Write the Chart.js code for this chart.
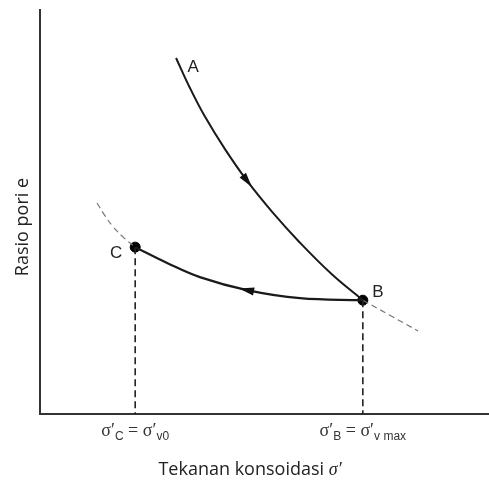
<!DOCTYPE html>
<html>
<head>
<meta charset="utf-8">
<script src="https://cdn.jsdelivr.net/npm/chart.js@4"></script>
<style>
html,body{margin:0;padding:0;background:#fff;}
#wrap{width:489px;height:480px;position:relative;}
</style>
</head>
<body>
<div id="wrap"><canvas id="c" width="489" height="480"></canvas></div>
<script>
// Curve A -> B (virgin compression, loading)
const curveAB_x = [3.03, 3.34, 3.67, 4.12, 4.61, 5.17, 5.79, 6.50, 7.19];
const curveAB_y = [8.79, 8.05, 7.35, 6.54, 5.76, 4.99, 4.23, 3.45, 2.81];
// Curve B -> C (unloading)
const curveBC_x = [7.19, 5.79, 4.61, 3.56, 2.83, 2.12];
const curveBC_y = [2.81, 2.86, 3.06, 3.38, 3.73, 4.12];
// Dashed extension of virgin line (before C and after B)
const dashLeft_x = [1.27, 1.45, 1.63, 1.87, 2.12];
const dashLeft_y = [5.21, 4.89, 4.62, 4.35, 4.12];
const dashRight_x = [7.19, 7.79, 8.42];
const dashRight_y = [2.81, 2.44, 2.05];
// Key points
const pointLabels = ["C", "B"];
const point_x = [2.12, 7.19];
const point_y = [4.12, 2.81];
// Tick labels under x axis
const tickMain = ["σ′", "σ′"];
const tickSub = ["C", "B"];
const tickRightMain = [" = σ′", " = σ′"];
const tickRightSub = ["v0", "v max"];
const xTitle = "Tekanan konsoidasi ";
const yTitle = "Rasio pori e";

function pts(xs, ys){ return xs.map((x,i)=>({x:x, y:ys[i]})); }

const overlay = {
  id:'overlay',
  afterDatasetsDraw(chart){
    const ctx = chart.ctx, xs = chart.scales.x, ys = chart.scales.y;
    const ca = chart.chartArea;
    ctx.save();
    // axes
    ctx.strokeStyle = '#333'; ctx.lineWidth = 2; ctx.setLineDash([]);
    ctx.beginPath();
    ctx.moveTo(ca.left, ca.top); ctx.lineTo(ca.left, ca.bottom); ctx.lineTo(ca.right, ca.bottom);
    ctx.stroke();
    // vertical dashed drops
    ctx.strokeStyle = '#222'; ctx.lineWidth = 1.6; ctx.setLineDash([7,4]);
    for (let i=0;i<point_x.length;i++){
      const px = xs.getPixelForValue(point_x[i]);
      ctx.beginPath();
      ctx.moveTo(px, ys.getPixelForValue(point_y[i]));
      ctx.lineTo(px, ca.bottom);
      ctx.stroke();
    }
    ctx.setLineDash([]);
    // arrows
    function arrow(xsArr, ysArr, idx){
      const x0 = xs.getPixelForValue(xsArr[idx-1]), y0 = ys.getPixelForValue(ysArr[idx-1]);
      const x1 = xs.getPixelForValue(xsArr[idx+1]), y1 = ys.getPixelForValue(ysArr[idx+1]);
      const cx = xs.getPixelForValue(xsArr[idx]), cy = ys.getPixelForValue(ysArr[idx]);
      const a = Math.atan2(y1-y0, x1-x0);
      ctx.save(); ctx.translate(cx, cy); ctx.rotate(a);
      ctx.fillStyle = '#111';
      ctx.beginPath(); ctx.moveTo(8,0); ctx.lineTo(-7,-4); ctx.lineTo(-7,4); ctx.closePath(); ctx.fill();
      ctx.restore();
    }
    arrow(curveAB_x, curveAB_y, 4);
    arrow(curveBC_x, curveBC_y, 2);
    // point labels
    ctx.fillStyle = '#222'; ctx.font = '17px "Liberation Sans", Arial, sans-serif';
    ctx.textBaseline = 'middle'; ctx.textAlign = 'center';
    ctx.fillText('A', xs.getPixelForValue(curveAB_x[0]) + 17, ys.getPixelForValue(curveAB_y[0]) + 9);
    ctx.fillText(pointLabels[0], xs.getPixelForValue(point_x[0]) - 19, ys.getPixelForValue(point_y[0]) + 6);
    ctx.fillText(pointLabels[1], xs.getPixelForValue(point_x[1]) + 15, ys.getPixelForValue(point_y[1]) - 8);
    // tick labels
    ctx.fillStyle = '#333'; ctx.textBaseline = 'alphabetic'; ctx.textAlign = 'left';
    for (let i=0;i<point_x.length;i++){
      const px = xs.getPixelForValue(point_x[i]);
      const mainF = '18px "Liberation Serif", serif', subF = '12px "Liberation Sans", sans-serif';
      const parts = [[tickMain[i], mainF, 0],[tickSub[i], subF, 4],[tickRightMain[i], mainF, 0],[tickRightSub[i], subF, 4]];
      let w = 0;
      parts.forEach(p=>{ ctx.font = p[1]; w += ctx.measureText(p[0]).width; });
      let x = px - w/2; const base = ca.bottom + 22;
      parts.forEach(p=>{ ctx.font = p[1]; ctx.fillText(p[0], x, base + p[2]); x += ctx.measureText(p[0]).width; });
    }
    // axis titles
    ctx.fillStyle = '#222';
    ctx.font = '18px "Open Sans", sans-serif';
    const w1 = ctx.measureText(xTitle).width;
    ctx.font = 'italic 18px "Liberation Serif", serif';
    const w2 = ctx.measureText('σ′').width;
    let tx = 250 - (w1+w2)/2;
    ctx.textBaseline = 'middle';
    ctx.font = '18px "Open Sans", sans-serif';
    ctx.fillText(xTitle, tx, 470);
    ctx.font = 'italic 18px "Liberation Serif", serif';
    ctx.fillText('σ′', tx + w1, 470);
    ctx.save(); ctx.translate(23, 227); ctx.rotate(-Math.PI/2);
    ctx.textAlign = 'center'; ctx.font = '18px "Open Sans", sans-serif';
    ctx.fillText(yTitle, 0, 0);
    ctx.restore();
    ctx.restore();
  }
};

new Chart(document.getElementById('c'), {
  type:'scatter',
  data:{ datasets:[
    {data:pts(curveAB_x, curveAB_y), showLine:true, borderColor:'#1a1a1a', borderWidth:2, pointRadius:0, tension:0.4},
    {data:pts(curveBC_x, curveBC_y), showLine:true, borderColor:'#1a1a1a', borderWidth:2.2, pointRadius:0, tension:0.4},
    {data:pts(dashLeft_x, dashLeft_y), showLine:true, borderColor:'#777', borderWidth:1.2, borderDash:[6,4], pointRadius:0, tension:0.4},
    {data:pts(dashRight_x, dashRight_y), showLine:true, borderColor:'#777', borderWidth:1.2, borderDash:[6,4], pointRadius:0, tension:0.4},
    {data:pts(point_x, point_y), showLine:false, pointRadius:5, pointBackgroundColor:'#000', pointBorderColor:'#000'}
  ]},
  options:{
    responsive:false, animation:false,
    layout:{autoPadding:false, padding:{left:40, top:9, right:0, bottom:66}},
    plugins:{legend:{display:false}, tooltip:{enabled:false}},
    scales:{
      x:{type:'linear', min:0, max:10, display:false},
      y:{type:'linear', min:0, max:10, display:false}
    }
  },
  plugins:[overlay]
});
</script>
</body>
</html>
